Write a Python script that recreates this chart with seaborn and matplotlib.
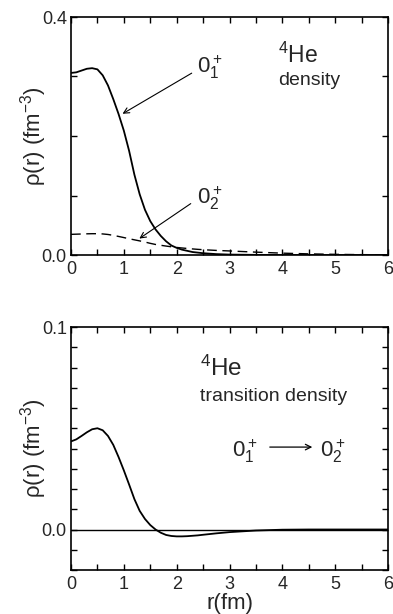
import numpy as np
import pandas as pd
import matplotlib
matplotlib.use("Agg")
import matplotlib.pyplot as plt
from matplotlib.ticker import MultipleLocator, FixedLocator
import seaborn as sns

# ---- data ----
r = [0.0, 0.1, 0.2, 0.3, 0.4, 0.5, 0.6, 0.7, 0.8, 0.9, 1.0, 1.1, 1.2, 1.3, 1.4,
     1.5, 1.6, 1.7, 1.8, 1.9, 2.0, 2.1, 2.2, 2.3, 2.4, 2.5, 2.75, 3.0, 3.5, 4.0,
     4.5, 5.0, 5.5, 6.0]
rho_ground = [0.306, 0.307, 0.310, 0.313, 0.314, 0.312, 0.302, 0.285, 0.262, 0.237,
              0.209, 0.175, 0.135, 0.102, 0.076, 0.057, 0.043, 0.032, 0.023, 0.016,
              0.012, 0.009, 0.007, 0.005, 0.004, 0.003, 0.0015, 0.0007, 0.0002,
              0.0001, 0.0, 0.0, 0.0, 0.0]
rho_excited = [0.0347, 0.0350, 0.0353, 0.0356, 0.0358, 0.0358, 0.0354, 0.0345, 0.0330,
               0.0312, 0.0293, 0.0273, 0.0255, 0.0237, 0.0218, 0.0196, 0.0177, 0.0163,
               0.0150, 0.0138, 0.0127, 0.0118, 0.0110, 0.0102, 0.0095, 0.0089, 0.0077,
               0.0068, 0.0048, 0.0031, 0.0019, 0.0011, 0.0006, 0.0003]
rho_transition = [0.0435, 0.0445, 0.0462, 0.0480, 0.0495, 0.0500, 0.0490, 0.0462, 0.0418,
                  0.0358, 0.0292, 0.0222, 0.0150, 0.0092, 0.0052, 0.0022, 0.0000, -0.0016,
                  -0.0027, -0.0032, -0.0034, -0.0034, -0.0033, -0.0031, -0.0029, -0.0026,
                  -0.0019, -0.0013, -0.0005, -0.0001, 0.0, 0.0, 0.0, 0.0]
x_ticks = [0, 1, 2, 3, 4, 5, 6]
y_ticks_top = [0.0, 0.4]
y_ticks_bottom = [0.0, 0.1]

sns.set_style("ticks")
plt.rcParams["font.family"] = ["Liberation Sans", "DejaVu Sans"]
plt.rcParams["mathtext.fontset"] = "custom"
plt.rcParams["mathtext.rm"] = "Liberation Sans"
plt.rcParams["mathtext.it"] = "Liberation Sans"
plt.rcParams["mathtext.bf"] = "Liberation Sans:bold"

fig = plt.figure(figsize=(3.93, 6.14), dpi=100)
W, H = 393, 614
ax1 = fig.add_axes([71 / W, (614 - 255) / H, 317 / W, 238 / H])
ax2 = fig.add_axes([71 / W, (614 - 570) / H, 317 / W, 243 / H])

df = pd.DataFrame({"r": r, "g": rho_ground, "e": rho_excited, "t": rho_transition})

sns.lineplot(data=df, x="r", y="g", ax=ax1, color="black", lw=1.3)
sns.lineplot(data=df, x="r", y="e", ax=ax1, color="black", lw=1.0,
             linestyle=(0, (7, 4)))
ax2.axhline(0, color="black", lw=1.0)
sns.lineplot(data=df, x="r", y="t", ax=ax2, color="black", lw=1.3)

fs_tick = 13
for ax in (ax1, ax2):
    ax.set_xlim(0, 6)
    ax.xaxis.set_major_locator(FixedLocator(x_ticks))
    ax.xaxis.set_minor_locator(MultipleLocator(0.5))
    ax.tick_params(which="both", direction="in", top=True, right=True,
                   length=4.5, width=1.0, labelsize=fs_tick, color="black")
    ax.tick_params(axis="x", which="both", pad=4.5)
    ax.tick_params(axis="y", which="both", pad=3)
    for s in ax.spines.values():
        s.set_linewidth(1.2)
        s.set_color("black")
    ax.set_ylabel("ρ(r) (fm$^{-3}$)", fontsize=16)
    ax.yaxis.set_label_coords(-0.068, 0.5)
    ax.set_xlabel("")

ax1.set_ylim(0, 0.4)
ax1.yaxis.set_major_locator(FixedLocator(y_ticks_top))
ax1.yaxis.set_minor_locator(MultipleLocator(0.1))
ax1.set_yticklabels(["0.0", "0.4"])

ax2.set_ylim(-0.02, 0.1)
ax2.yaxis.set_major_locator(FixedLocator(y_ticks_bottom))
ax2.yaxis.set_minor_locator(MultipleLocator(0.01))
ax2.set_yticklabels(["0.0", "0.1"])
ax2.set_xlabel("r(fm)", fontsize=16, labelpad=0)

# annotations top
ax1.annotate("", xy=(0.93, 0.235), xytext=(2.33, 0.308),
             arrowprops=dict(arrowstyle="->", lw=0.8, color="black"))
ax1.text(2.38, 0.316, "$0_1^+$", fontsize=16, va="center", ha="left")
ax1.annotate("", xy=(1.25, 0.025), xytext=(2.31, 0.089),
             arrowprops=dict(arrowstyle="->", lw=0.8, color="black"))
ax1.text(2.38, 0.096, "$0_2^+$", fontsize=16, va="center", ha="left")
ax1.text(3.92, 0.336, "$^4$He", fontsize=16.5, va="center", ha="left")
ax1.text(3.92, 0.294, "density", fontsize=14, va="center", ha="left")

# annotations bottom
ax2.text(2.44, 0.0795, "$^4$He", fontsize=17.5, va="center", ha="left")
ax2.text(2.44, 0.0655, "transition density", fontsize=14, va="center", ha="left")
ax2.text(3.05, 0.0387, "$0_1^+$", fontsize=16, va="center", ha="left")
ax2.annotate("", xy=(4.62, 0.0407), xytext=(3.71, 0.0407),
             arrowprops=dict(arrowstyle="->", lw=0.9, color="black"))
ax2.text(4.71, 0.0387, "$0_2^+$", fontsize=16, va="center", ha="left")

fig.savefig("out.png", dpi=100)
